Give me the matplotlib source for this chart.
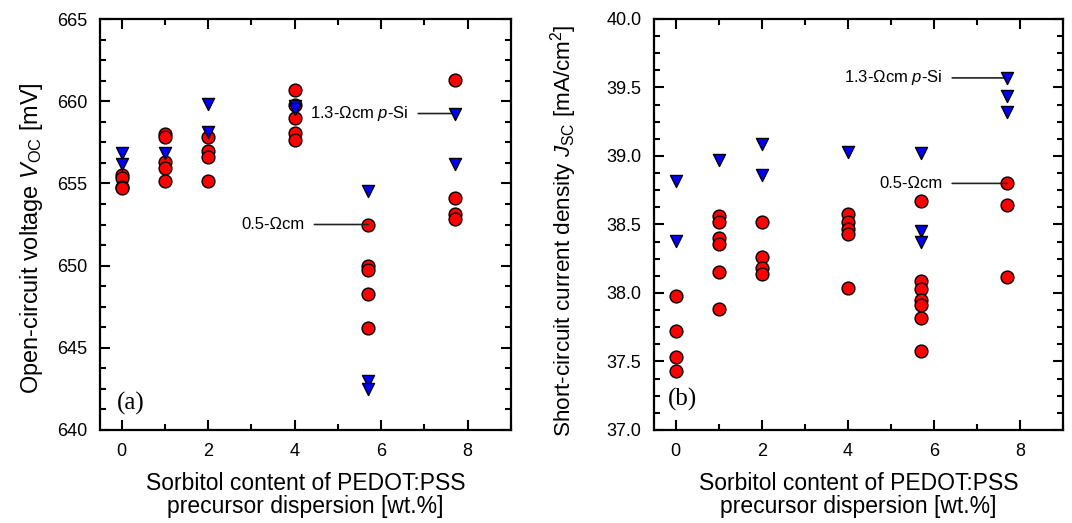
import matplotlib
matplotlib.use("Agg")
import matplotlib.pyplot as plt
from matplotlib.ticker import MultipleLocator

plt.rcParams['font.family'] = ['Liberation Sans', 'DejaVu Sans']
plt.rcParams['mathtext.fontset'] = 'custom'
plt.rcParams['mathtext.rm'] = 'Liberation Sans'
plt.rcParams['mathtext.it'] = 'Liberation Sans:italic'

# ---- Data: (a) open-circuit voltage [mV] ----
voc_circle_x = [0, 0, 0, 0,
                1, 1, 1, 1, 1,
                2, 2, 2, 2,
                4, 4, 4, 4, 4,
                5.7, 5.7, 5.7, 5.7, 5.7,
                7.7, 7.7, 7.7, 7.7]
voc_circle_y = [655.5, 655.3, 654.8, 654.7,
                658.0, 657.85, 656.3, 655.95, 655.15,
                657.85, 657.0, 656.6, 655.15,
                660.7, 659.75, 658.95, 658.05, 657.65,
                652.5, 650.0, 649.75, 648.3, 646.2,
                661.3, 654.1, 653.15, 652.85]
voc_tri_x = [0, 0, 1, 2, 2, 4, 4, 5.7, 5.7, 5.7, 7.7, 7.7]
voc_tri_y = [656.85, 656.2, 656.85, 659.8, 658.1, 659.7, 659.55,
             654.55, 643.0, 642.5, 659.25, 656.2]

# ---- Data: (b) short-circuit current density [mA/cm2] ----
jsc_circle_x = [0, 0, 0, 0,
                1, 1, 1, 1, 1, 1,
                2, 2, 2, 2,
                4, 4, 4, 4, 4,
                5.7, 5.7, 5.7, 5.7, 5.7, 5.7, 5.7,
                7.7, 7.7, 7.7]
jsc_circle_y = [37.98, 37.72, 37.53, 37.43,
                38.56, 38.52, 38.40, 38.36, 38.15, 37.88,
                38.52, 38.26, 38.18, 38.14,
                38.58, 38.52, 38.47, 38.43, 38.04,
                38.67, 38.09, 38.03, 37.95, 37.91, 37.82, 37.58,
                38.80, 38.64, 38.12]
jsc_tri_x = [0, 0, 1, 2, 2, 4, 5.7, 5.7, 5.7, 7.7, 7.7, 7.7]
jsc_tri_y = [38.82, 38.38, 38.97, 39.09, 38.86, 39.03, 39.02, 38.45, 38.37,
             39.57, 39.44, 39.32]

xticks = [0, 2, 4, 6, 8]
xlabel = "Sorbitol content of PEDOT:PSS\nprecursor dispersion [wt.%]"

fig = plt.figure(figsize=(10.72, 5.23), dpi=100)
ax1 = fig.add_axes([100/1072, 1-430/523, 411/1072, 411/523])
ax2 = fig.add_axes([654/1072, 1-430/523, 409/1072, 411/523])

red = '#ff0000'
blue = '#0000ff'
LBL = 16.5

for ax in (ax1, ax2):
    ax.set_xlim(-0.5, 9)
    ax.set_xticks(xticks)
    ax.xaxis.set_minor_locator(MultipleLocator(1))
    ax.tick_params(which='both', direction='in', top=True, right=True,
                   width=1.5, labelsize=13)
    ax.tick_params(which='major', length=7, pad=9)
    ax.tick_params(which='minor', length=4)
    for s in ax.spines.values():
        s.set_linewidth(1.6)
    ax.set_xlabel(xlabel, fontsize=LBL, labelpad=9, linespacing=1.0)

ann_line = dict(arrowstyle='-', color='#222222', lw=1.2, shrinkA=5, shrinkB=0)

# Panel (a)
ax1.scatter(voc_circle_x, voc_circle_y, s=85, c=red, edgecolors='black',
            linewidths=1.0, zorder=3)
ax1.scatter(voc_tri_x, voc_tri_y, s=75, c=blue, marker='v',
            edgecolors='black', linewidths=1.0, zorder=4)
ax1.set_ylim(640, 665)
ax1.yaxis.set_major_locator(MultipleLocator(5))
ax1.yaxis.set_minor_locator(MultipleLocator(1.25))
ax1.set_ylabel(r"Open-circuit voltage $V_{\rm OC}$ [mV]", fontsize=16.9, labelpad=9)
ax1.yaxis.set_label_coords(-0.135, 0.467)
ax1.text(0.04, 0.065, "(a)", transform=ax1.transAxes, fontsize=18,
         family='Liberation Serif', va='center', ha='left')
ax1.annotate("1.3-Ωcm $p$-Si", xy=(7.7, 659.25), xytext=(6.63, 659.25),
             fontsize=12, ha='right', va='center', arrowprops=ann_line)
ax1.annotate("0.5-Ωcm", xy=(5.7, 652.5), xytext=(4.23, 652.5),
             fontsize=12, ha='right', va='center', arrowprops=ann_line)

# Panel (b)
ax2.scatter(jsc_circle_x, jsc_circle_y, s=85, c=red, edgecolors='black',
            linewidths=1.0, zorder=3)
ax2.scatter(jsc_tri_x, jsc_tri_y, s=75, c=blue, marker='v',
            edgecolors='black', linewidths=1.0, zorder=4)
ax2.set_ylim(37.0, 40.0)
ax2.yaxis.set_major_locator(MultipleLocator(0.5))
ax2.yaxis.set_minor_locator(MultipleLocator(0.125))
ax2.yaxis.set_major_formatter(plt.FormatStrFormatter('%.1f'))
ax2.set_ylabel(r"Short-circuit current density $J_{\rm SC}$ [mA/cm$^2$]",
               fontsize=16.2, labelpad=9)
ax2.yaxis.set_label_coords(-0.183, 0.484)
ax2.text(0.035, 0.075, "(b)", transform=ax2.transAxes, fontsize=18,
         family='Liberation Serif', va='center', ha='left')
ax2.annotate("1.3-Ωcm $p$-Si", xy=(7.7, 39.57), xytext=(6.2, 39.57),
             fontsize=12, ha='right', va='center', arrowprops=ann_line)
ax2.annotate("0.5-Ωcm", xy=(7.7, 38.80), xytext=(6.2, 38.80),
             fontsize=12, ha='right', va='center', arrowprops=ann_line)

fig.savefig("out.png", dpi=100)
